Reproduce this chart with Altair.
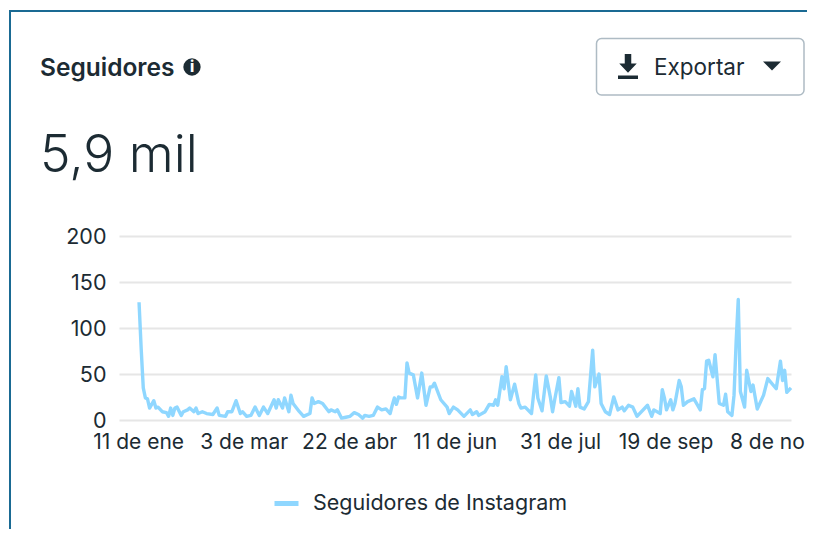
import altair as alt
import pandas as pd

days = [0,1,2,3,4,5,7,8,9,11,13,14,15,16,17,18,20,21,23,24,26,27,28,30,32,35,37,38,41,42,44,46,48,49,51,53,55,57,59,
        61,64,65,66,68,69,71,72,73,76,78,79,81,82,83,85,87,90,91,93,94,96,98,100,102,104,106,107,109,111,113,115,117,119,
        120,121,122,123,124,126,127,128,130,132,134,136,138,139,140,143,146,147,149,151,154,157,158,160,161,164,166,168,169,170,
        172,173,174,176,178,180,181,183,186,188,189,191,193,195,196,197,199,200,202,204,205,207,208,209,211,213,215,216,218,219,
        221,223,225,227,229,230,232,234,236,241,243,244,247,248,249,250,252,253,254,256,257,258,260,263,266,267,268,269,270,272,
        273,275,277,278,279,281,282,283,284,285,287,288,290,291,293,296,298,302,304,305,306,307,309]
followers = [128,78,35,24,23,13,21,13,14,9,8,4,13,5,13,14,5,9,11,13,9,13,7,9,7,6,13,5,4,9,9,21,7,9,4,5,14,5,14,
             7,22,13,22,13,24,9,27,18,9,4,5,7,24,18,20,18,9,11,9,11,2,3,4,8,6,2,5,4,5,14,11,12,7,
             16,24,17,25,24,24,62,51,49,24,51,16,36,36,40,22,14,7,14,11,4,11,6,9,5,9,17,16,22,16,
             47,34,58,22,39,18,13,14,7,49,24,10,48,24,9,22,46,19,20,15,31,15,34,14,12,20,76,36,50,18,
             9,6,25,11,14,10,16,14,4,16,4,11,7,33,24,11,22,11,18,43,36,16,20,23,11,33,34,64,65,47,
             71,18,16,28,9,5,27,85,131,31,14,54,31,38,12,27,45,34,64,43,54,30,35]
y_ticks = [0, 50, 100, 150, 200]
x_ticks = [1, 51, 101, 151, 201, 251, 299]
x_labels = ["11 de ene", "3 de mar", "22 de abr", "11 de jun", "31 de jul", "19 de sep", "8 de no"]
series = "Seguidores de Instagram"
title = "Seguidores"
total = "5,9 mil"
button = "Exportar"

INK = "#1c2b33"
LINE = "#8fd7ff"
FONT = "Inter"
L, T = 119, 236  # plot origin in the page

def px(v): return alt.value(v - L)
def py(v): return alt.value(v - T)

df = pd.DataFrame({"day": days, "n": followers, "s": series})
one = pd.DataFrame({"a": [0]})
base = alt.Chart(one)

label_expr = "[" + ",".join(f"'{s}'" for s in x_labels) + "][indexof([" + ",".join(map(str, x_ticks)) + "],datum.value)]"

line = alt.Chart(df).mark_line(strokeWidth=3.4, strokeJoin="round", interpolate="linear", clip=False).encode(
    x=alt.X("day:Q", scale=alt.Scale(domain=[-9.5, 309], nice=False, zero=False),
            axis=alt.Axis(values=x_ticks, labelExpr=label_expr, title=None, grid=False, ticks=False, domain=False,
                          labelFontSize=21, labelColor=INK, labelFont=FONT, labelPadding=11, labelOffset=-3,
                          labelOverlap=False, labelBound=False, labelFlush=False)),
    y=alt.Y("n:Q", scale=alt.Scale(domain=[0, 200], nice=False),
            axis=alt.Axis(values=y_ticks, title=None, ticks=False, domain=False, grid=True,
                          gridColor="#e6e6e6", gridWidth=2, labelFontSize=21.5, labelColor=INK,
                          labelFont=FONT, labelPadding=13, labelOffset=1)),
    color=alt.Color("s:N", scale=alt.Scale(range=[LINE]),
                    legend=alt.Legend(title=None, orient="none", legendX=275 - L - 3, legendY=489 - T,
                                      symbolType="stroke", symbolStrokeWidth=5, symbolSize=576,
                                      labelFontSize=21.5, labelColor=INK, labelFont=FONT, labelOffset=12,
                                      labelLimit=400)),
)

rule_top = base.mark_rule(color="#1a6a93", strokeWidth=2).encode(x=px(9), x2=px(815), y=py(11))
rule_left = base.mark_rule(color="#1a6a93", strokeWidth=2).encode(x=px(10), y=py(10), y2=py(537))
title_t = base.mark_text(text=title, align="left", baseline="middle", font=FONT, fontWeight=600, fontSize=24.5, color=INK).encode(x=px(40), y=py(68.5))
info = base.mark_point(filled=True, size=300, opacity=1, color=INK, shape="circle").encode(x=px(192), y=py(67))
info_i = base.mark_text(text="i", align="center", baseline="middle", font=FONT, fontWeight=800, fontSize=15, color="white").encode(x=px(192), y=py(67))
total_t = base.mark_text(text=total, align="left", baseline="middle", font=FONT, fontWeight=300, fontSize=51.5, color=INK).encode(x=px(40), y=py(157))
btn = base.mark_rect(fill="white", stroke="#aebbc4", strokeWidth=1.5, cornerRadius=5).encode(x=px(596.5), x2=px(804), y=py(38.5), y2=py(95))
icon = base.mark_point(filled=True, opacity=1, color=INK, size=625,
                       shape="M-0.26,-1 L0.26,-1 L0.26,-0.25 L0.7,-0.25 L0,0.5 L-0.7,-0.25 L-0.26,-0.25 Z M-0.8,0.72 L0.8,0.72 L0.8,1 L-0.8,1 Z").encode(x=px(628), y=py(66.5))
btn_t = base.mark_text(text=button, align="left", baseline="middle", font=FONT, fontSize=22.5, color=INK).encode(x=px(654), y=py(68))
caret = base.mark_point(filled=True, opacity=1, color=INK, shape="M-1,-0.5 L1,-0.5 L0,0.5 Z", size=324).encode(x=px(772), y=py(66))

chart = alt.layer(line, rule_top, rule_left, title_t, info, info_i, total_t, btn, icon, btn_t, caret).properties(
    width=672, height=184,
    padding={"left": L - 8, "top": T - 8, "right": 16, "bottom": 109},
    autosize=alt.AutoSizeParams(type="none"),
    background="white",
).configure_view(stroke=None)

chart.save("out.html", embed_options={"renderer": "svg", "actions": False})
